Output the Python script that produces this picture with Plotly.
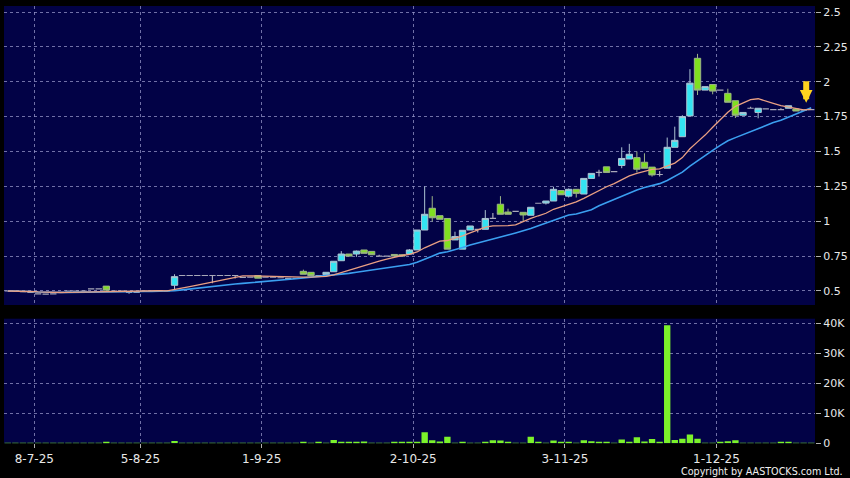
import pandas as pd
import plotly.graph_objects as go

# ---------------- data ----------------
dates = [
    "2025-06-27", "2025-06-30", "2025-07-03", "2025-07-07",
    "2025-07-08",
    "2025-07-09", "2025-07-10", "2025-07-14", "2025-07-16", "2025-07-18", "2025-07-21", "2025-07-22",
    "2025-07-24", "2025-07-25", "2025-07-28", "2025-07-30", "2025-07-31", "2025-08-01",
    "2025-08-05",
    "2025-08-06", "2025-08-07", "2025-08-08", "2025-08-11", "2025-08-12", "2025-08-14", "2025-08-15",
    "2025-08-18", "2025-08-19", "2025-08-21", "2025-08-22", "2025-08-25", "2025-08-26", "2025-08-28",
    "2025-08-29",
    "2025-09-01",
    "2025-09-02", "2025-09-04", "2025-09-05", "2025-09-08", "2025-09-09", "2025-09-11", "2025-09-12",
    "2025-09-15", "2025-09-16", "2025-09-17", "2025-09-18", "2025-09-19", "2025-09-22", "2025-09-23",
    "2025-09-24", "2025-09-25", "2025-09-26", "2025-09-29", "2025-09-30",
    "2025-10-02",
    "2025-10-03", "2025-10-06", "2025-10-08", "2025-10-09", "2025-10-10", "2025-10-13", "2025-10-14",
    "2025-10-15", "2025-10-16", "2025-10-17", "2025-10-20", "2025-10-21", "2025-10-22", "2025-10-23",
    "2025-10-24", "2025-10-27", "2025-10-28", "2025-10-30", "2025-10-31",
    "2025-11-03",
    "2025-11-04", "2025-11-05", "2025-11-06", "2025-11-07", "2025-11-10", "2025-11-11", "2025-11-12",
    "2025-11-13", "2025-11-14", "2025-11-17", "2025-11-18", "2025-11-19", "2025-11-20", "2025-11-21",
    "2025-11-24", "2025-11-25", "2025-11-26", "2025-11-27", "2025-11-28",
    "2025-12-01",
    "2025-12-02", "2025-12-03", "2025-12-04", "2025-12-05", "2025-12-08", "2025-12-09", "2025-12-10",
    "2025-12-11", "2025-12-12", "2025-12-15", "2025-12-16", "2025-12-17",
]

open_ = [
    0.50, 0.50, 0.495, 0.49, 0.48, 0.478, 0.48, 0.49, 0.50, 0.50,
    0.50, 0.515, 0.515, 0.535, 0.50, 0.50, 0.49, 0.49, 0.50, 0.50,
    0.502, 0.50, 0.541, 0.611, 0.611, 0.611, 0.611, 0.611, 0.611, 0.611,
    0.611, 0.597, 0.60, 0.611, 0.60, 0.60, 0.595, 0.59, 0.59, 0.641,
    0.634, 0.61, 0.617, 0.638, 0.717, 0.765, 0.765, 0.794, 0.784, 0.75,
    0.75, 0.762, 0.76, 0.765, 0.794, 0.937, 1.093, 1.04, 1.02, 0.866,
    0.80, 0.937, 0.942, 0.942, 1.02, 1.122, 1.066, 1.071, 1.064, 1.043,
    1.129, 1.13, 1.145, 1.22, 1.18, 1.229, 1.195, 1.307, 1.35, 1.39,
    1.355, 1.40, 1.446, 1.456, 1.423, 1.388, 1.335, 1.38, 1.53, 1.606,
    1.755, 2.168, 1.94, 1.98, 1.94, 1.917, 1.864, 1.76, 1.81, 1.78,
    1.805, 1.80, 1.80, 1.81, 1.805, 1.797, 1.80,
]
high = [
    0.50, 0.50, 0.495, 0.49, 0.48, 0.478, 0.48, 0.49, 0.50, 0.50,
    0.50, 0.515, 0.515, 0.535, 0.50, 0.50, 0.49, 0.49, 0.50, 0.50,
    0.502, 0.50, 0.62, 0.611, 0.611, 0.611, 0.611, 0.611, 0.611, 0.611,
    0.611, 0.597, 0.60, 0.611, 0.60, 0.60, 0.595, 0.59, 0.59, 0.653,
    0.634, 0.61, 0.634, 0.713, 0.786, 0.765, 0.79, 0.794, 0.784, 0.76,
    0.75, 0.762, 0.76, 0.80, 0.937, 1.25, 1.18, 1.04, 1.02, 0.925,
    0.935, 0.966, 0.942, 1.08, 1.06, 1.18, 1.09, 1.071, 1.064, 1.10,
    1.129, 1.145, 1.248, 1.22, 1.235, 1.229, 1.307, 1.343, 1.37, 1.39,
    1.355, 1.53, 1.555, 1.50, 1.487, 1.388, 1.36, 1.60, 1.678, 1.76,
    2.09, 2.20, 1.965, 1.98, 1.94, 1.95, 1.864, 1.78, 1.82, 1.81,
    1.805, 1.80, 1.81, 1.828, 1.805, 1.797, 1.80,
]
low = [
    0.50, 0.50, 0.495, 0.49, 0.48, 0.478, 0.48, 0.49, 0.50, 0.50,
    0.50, 0.515, 0.515, 0.506, 0.50, 0.50, 0.48, 0.49, 0.50, 0.50,
    0.502, 0.50, 0.507, 0.611, 0.611, 0.611, 0.611, 0.555, 0.611, 0.611,
    0.59, 0.597, 0.60, 0.592, 0.60, 0.60, 0.595, 0.59, 0.59, 0.62,
    0.608, 0.61, 0.617, 0.638, 0.717, 0.745, 0.745, 0.77, 0.76, 0.75,
    0.75, 0.75, 0.75, 0.765, 0.794, 0.937, 0.997, 1.014, 0.80, 0.866,
    0.80, 0.937, 0.92, 0.942, 1.02, 1.05, 1.05, 1.071, 1.00, 1.043,
    1.129, 1.12, 1.145, 1.19, 1.17, 1.17, 1.195, 1.307, 1.32, 1.35,
    1.355, 1.38, 1.446, 1.35, 1.38, 1.32, 1.32, 1.38, 1.53, 1.606,
    1.755, 1.905, 1.94, 1.91, 1.94, 1.853, 1.74, 1.76, 1.81, 1.738,
    1.805, 1.80, 1.80, 1.81, 1.79, 1.797, 1.80,
]
close = [
    0.50, 0.50, 0.495, 0.49, 0.48, 0.478, 0.48, 0.49, 0.50, 0.50,
    0.50, 0.515, 0.515, 0.506, 0.50, 0.50, 0.49, 0.49, 0.50, 0.50,
    0.502, 0.50, 0.603, 0.611, 0.611, 0.611, 0.611, 0.611, 0.611, 0.611,
    0.611, 0.597, 0.60, 0.592, 0.60, 0.60, 0.595, 0.59, 0.59, 0.62,
    0.61, 0.61, 0.634, 0.713, 0.765, 0.75, 0.786, 0.77, 0.76, 0.75,
    0.75, 0.75, 0.75, 0.794, 0.937, 1.05, 1.025, 1.014, 0.80, 0.89,
    0.935, 0.966, 0.942, 1.02, 1.02, 1.05, 1.05, 1.071, 1.045, 1.10,
    1.129, 1.145, 1.229, 1.19, 1.229, 1.20, 1.307, 1.343, 1.35, 1.35,
    1.355, 1.45, 1.48, 1.373, 1.38, 1.332, 1.335, 1.53, 1.58, 1.75,
    1.99, 1.94, 1.965, 1.933, 1.94, 1.853, 1.76, 1.78, 1.81, 1.81,
    1.805, 1.80, 1.80, 1.828, 1.79, 1.797, 1.80,
]
volume = [
    100, 100, 50, 100, 50, 100, 150, 50, 100, 100,
    150, 100, 100, 400, 150, 100, 100, 100, 100, 150,
    200, 100, 800, 100, 100, 100, 50, 100, 100, 150,
    100, 100, 100, 150, 150, 100, 200, 100, 100, 500,
    100, 400, 200, 1100, 500, 300, 300, 600, 100, 100,
    200, 300, 400, 400, 400, 3700, 1000, 600, 2200, 100,
    300, 100, 150, 300, 1000, 900, 400, 100, 100, 2200,
    300, 100, 900, 300, 300, 100, 1000, 700, 300, 400,
    100, 1300, 500, 2000, 600, 1400, 300, 39400, 1100, 1500,
    2900, 1500, 100, 200, 300, 700, 1000, 200, 200, 200,
    100, 100, 300, 500, 150, 100, 100,
]

tick_dates = ["2025-07-08", "2025-08-05", "2025-09-01", "2025-10-02", "2025-11-03", "2025-12-01"]
price_ticks = [0.5, 0.75, 1.0, 1.25, 1.5, 1.75, 2.0, 2.25, 2.5]
price_tick_text = ["0.5", "0.75", "1", "1.25", "1.5", "1.75", "2", "2.25", "2.5"]
vol_ticks = [0, 10000, 20000, 30000, 40000]
vol_tick_text = ["0", "10K", "20K", "30K", "40K"]

# ---------------- derived ----------------
n = len(dates)
idx = list(range(n))
tick_pos = [dates.index(d) - 0.5 for d in tick_dates]
tick_text = []
for d in tick_dates:
    y, m, dd = d.split("-")
    tick_text.append(f"{int(dd)}-{int(m)}-{y[2:]}")

cs = pd.Series(close)
ma10 = cs.rolling(10, min_periods=1).mean()
ma20 = cs.rolling(20, min_periods=1).mean()

body = [i for i in idx if open_[i] != close[i]]
doji = [i for i in idx if open_[i] == close[i]]

FONT = "DejaVu Sans"
GRID = "rgba(150,150,200,0.75)"
CYAN = "#33e4f2"
GREEN = "#80e020"

fig = go.Figure()

fig.add_trace(go.Scatter(x=idx, y=ma20, mode="lines",
                         line=dict(color="#3b9ff0", width=1.6),
                         xaxis="x", yaxis="y", hoverinfo="skip"))
fig.add_trace(go.Scatter(x=idx, y=ma10, mode="lines",
                         line=dict(color="#eaa083", width=1.3),
                         xaxis="x", yaxis="y", hoverinfo="skip"))

fig.add_trace(go.Candlestick(
    x=[idx[i] for i in body],
    open=[open_[i] for i in body], high=[high[i] for i in body],
    low=[low[i] for i in body], close=[close[i] for i in body],
    increasing=dict(fillcolor=CYAN, line=dict(color="#aec4d2", width=1)),
    decreasing=dict(fillcolor=GREEN, line=dict(color="#9cb486", width=1)),
    whiskerwidth=0, xaxis="x", yaxis="y"))

fig.add_trace(go.Candlestick(
    x=[idx[i] for i in doji],
    open=[open_[i] for i in doji], high=[high[i] for i in doji],
    low=[low[i] for i in doji], close=[close[i] for i in doji],
    increasing=dict(fillcolor="#a8a8b8", line=dict(color="#a8a8b8", width=1.2)),
    decreasing=dict(fillcolor="#a8a8b8", line=dict(color="#a8a8b8", width=1.2)),
    whiskerwidth=0, xaxis="x", yaxis="y"))

fig.add_trace(go.Bar(x=idx, y=volume, marker=dict(color="#7cf22a", line=dict(width=0)),
                     xaxis="x2", yaxis="y2"))

xd = [4 / 850, 815 / 850]
axis_common = dict(showgrid=True, gridcolor=GRID, gridwidth=1, griddash="3px,3px",
                   zeroline=False, showline=False)

fig.update_layout(
    width=850, height=478,
    margin=dict(l=0, r=0, t=0, b=0),
    paper_bgcolor="#000000", plot_bgcolor="#020246",
    showlegend=False, boxgap=0.16, boxgroupgap=0, bargap=0.16,
    font=dict(family=FONT, color="#e8e8e8", size=12),
    xaxis=dict(domain=xd, anchor="y", range=[-0.5, n - 0.5], tickvals=tick_pos,
               showticklabels=False, ticks="", rangeslider=dict(visible=False),
               **axis_common),
    xaxis2=dict(domain=xd, anchor="y2", matches="x", range=[-0.5, n - 0.5],
                tickvals=tick_pos, ticktext=tick_text, ticks="outside", ticklen=4,
                tickcolor="#b0b0b0", tickfont=dict(family=FONT, size=12, color="#e8e8e8"),
                **axis_common),
    yaxis=dict(domain=[1 - 305 / 478, 1 - 6 / 478], anchor="x", side="right",
               range=[0.3996, 2.543], tickvals=price_ticks, ticktext=price_tick_text,
               ticks="outside", ticklen=5, tickcolor="#b0b0b0",
               tickfont=dict(family=FONT, size=11, color="#e8e8e8"), automargin=False,
               **axis_common),
    yaxis2=dict(domain=[1 - 443.3 / 478, 1 - 318.7 / 478], anchor="x2", side="right",
                range=[0, 41550], tickvals=vol_ticks, ticktext=vol_tick_text,
                ticks="outside", ticklen=5, tickcolor="#b0b0b0",
                tickfont=dict(family=FONT, size=11, color="#e8e8e8"), automargin=False,
                **axis_common),
    annotations=[
        dict(text="Copyright by AASTOCKS.com Ltd.", xref="paper", yref="paper",
             x=0.994, y=1 - 471 / 478, xanchor="right", yanchor="middle",
             showarrow=False, font=dict(family=FONT, size=9.6, color="#f0f0f0")),
        dict(text="", x=idx[-1], y=high[-1], xref="x", yref="y", xshift=-5,
             showarrow=True, ax=0, ay=-30, standoff=7, arrowhead=2,
             arrowsize=0.42, arrowwidth=6, arrowcolor="#ffd21f"),
    ],
)

fig.write_html("out.html", config={"displayModeBar": False},
               post_script="document.body.style.margin='0px';document.body.style.overflow='hidden';")
